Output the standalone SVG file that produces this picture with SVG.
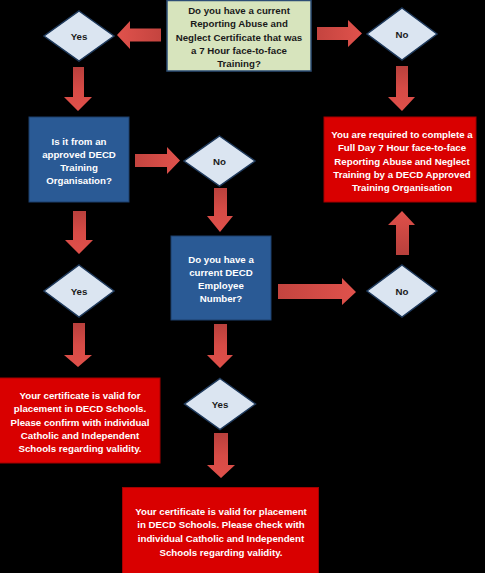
<svg xmlns="http://www.w3.org/2000/svg" width="485" height="573" viewBox="0 0 485 573">
<defs>
<linearGradient id="gv" x1="0" y1="0" x2="0" y2="1"><stop offset="0" stop-color="#b8403c"/><stop offset="0.5" stop-color="#d64b46"/><stop offset="1" stop-color="#e0504a"/></linearGradient>
<linearGradient id="gh" x1="0" y1="0" x2="1" y2="0"><stop offset="0" stop-color="#c4443f"/><stop offset="1" stop-color="#e0524c"/></linearGradient>
<linearGradient id="ghl" x1="1" y1="0" x2="0" y2="0"><stop offset="0" stop-color="#c4443f"/><stop offset="1" stop-color="#e0524c"/></linearGradient>
<linearGradient id="gu" x1="0" y1="1" x2="0" y2="0"><stop offset="0" stop-color="#b8403c"/><stop offset="1" stop-color="#e0504a"/></linearGradient>
</defs>
<style>
.t{font-family:"Liberation Sans",Arial,sans-serif;font-weight:bold;font-size:9.7px;text-anchor:middle}
.w{fill:#ffffff}
.k{fill:#1a1a1a}
.dia{fill:#dbe5f1;stroke:#1f3a5c;stroke-width:1.5}
.blue{fill:#2a5a95;stroke:#1c3f6b;stroke-width:1}
.red{fill:#d90000;stroke:#a30000;stroke-width:1}
.green{fill:#d7e4bd;stroke:#2c4d75;stroke-width:1.5}
</style>
<rect width="485" height="573" fill="#000000"/>
<g id="connectors">
<polygon fill="url(#ghl)" points="161,28.5 130,28.5 130,21 117,35 130,49 130,41.5 161,41.5"/>
<polygon fill="url(#gh)" points="317,27 348,27 348,20 362,33.5 348,47 348,40 317,40"/>
<polygon fill="url(#gv)" points="73,67 84,67 84,97 92,97 78,111 64,97 73,97"/>
<polygon fill="url(#gv)" points="396,66 408,66 408,97 415,97 402,111 388,97 396,97"/>
<polygon fill="url(#gh)" points="135,154 167,154 167,147 180,160.5 167,174 167,167 135,167"/>
<polygon fill="url(#gv)" points="214,188 227,188 227,216 233,216 220,232 207,216 214,216"/>
<polygon fill="url(#gu)" points="396,255 409,255 409,225 415,225 402,211 388,225 396,225"/>
<polygon fill="url(#gv)" points="73,211 86,211 86,240 93,240 79,254 65,240 73,240"/>
<polygon fill="url(#gh)" points="278,284 342,284 342,278 356,292 342,305 342,299 278,299"/>
<polygon fill="url(#gv)" points="73,323 85,323 85,355 92,355 78,367 64,355 73,355"/>
<polygon fill="url(#gv)" points="214,324 227,324 227,355 233,355 220,368 207,355 214,355"/>
<polygon fill="url(#gv)" points="214,433 228,433 228,465 235,465 221,478 207,465 214,465"/>
</g>
<g id="q1">
<rect class="green" x="167" y="0.5" width="144" height="70.5"/>
<text class="t k" x="239" y="13.5">Do you have a current</text>
<text class="t k" x="239" y="27">Reporting Abuse and</text>
<text class="t k" x="239" y="40.5">Neglect Certificate that was</text>
<text class="t k" x="239" y="54">a 7 Hour face-to-face</text>
<text class="t k" x="239" y="67">Training?</text>
</g>
<g id="yes1">
<polygon class="dia" points="79,11 114,36 79,61 44,36"/>
<text class="t k" x="79" y="39.5">Yes</text>
</g>
<g id="no1">
<polygon class="dia" points="402,8 437,34 402,60 367,34"/>
<text class="t k" x="402" y="37.5">No</text>
</g>
<g id="q2">
<rect class="blue" x="29" y="117" width="100" height="85"/>
<text class="t w" x="79" y="145">Is it from an</text>
<text class="t w" x="79" y="158">approved DECD</text>
<text class="t w" x="79" y="170.5">Training</text>
<text class="t w" x="79" y="183.5">Organisation?</text>
</g>
<g id="no2">
<polygon class="dia" points="219.5,136 255,161 219.5,186 184,161"/>
<text class="t k" x="219.5" y="164.5">No</text>
</g>
<g id="required">
<rect class="red" x="324" y="117" width="152" height="85"/>
<text class="t w" x="402" y="137.5">You are required to complete a</text>
<text class="t w" x="402" y="151">Full Day 7 Hour face-to-face</text>
<text class="t w" x="402" y="164.5">Reporting Abuse and Neglect</text>
<text class="t w" x="402" y="177.5">Training by a DECD Approved</text>
<text class="t w" x="402" y="190.5">Training Organisation</text>
</g>
<g id="q3">
<rect class="blue" x="171" y="236" width="100" height="84"/>
<text class="t w" x="221" y="262.5">Do you have a</text>
<text class="t w" x="221" y="275.5">current DECD</text>
<text class="t w" x="221" y="288.5">Employee</text>
<text class="t w" x="221" y="301.5">Number?</text>
</g>
<g id="yes2">
<polygon class="dia" points="79,265 114,291 79,317 44,291"/>
<text class="t k" x="79" y="294.5">Yes</text>
</g>
<g id="no3">
<polygon class="dia" points="402,265 437,291 402,317 367,291"/>
<text class="t k" x="402" y="294.5">No</text>
</g>
<g id="valid1">
<rect class="red" x="-1" y="378" width="161" height="85"/>
<text class="t w" x="80" y="398.5">Your certificate is valid for</text>
<text class="t w" x="80" y="411.5">placement in DECD Schools.</text>
<text class="t w" x="80" y="425.5">Please confirm with individual</text>
<text class="t w" x="80" y="438.5">Catholic and Independent</text>
<text class="t w" x="80" y="451.5">Schools regarding validity.</text>
</g>
<g id="yes3">
<polygon class="dia" points="220,378.5 255.5,404 220,429.5 184.5,404"/>
<text class="t k" x="220" y="407.5">Yes</text>
</g>
<g id="valid2">
<rect class="red" x="122.5" y="487.5" width="196" height="90"/>
<text class="t w" x="221" y="514.5">Your certificate is valid for placement</text>
<text class="t w" x="221" y="527.5">in DECD Schools. Please check with</text>
<text class="t w" x="221" y="541.5">individual Catholic and Independent</text>
<text class="t w" x="221" y="555.5">Schools regarding validity.</text>
</g>
</svg>
